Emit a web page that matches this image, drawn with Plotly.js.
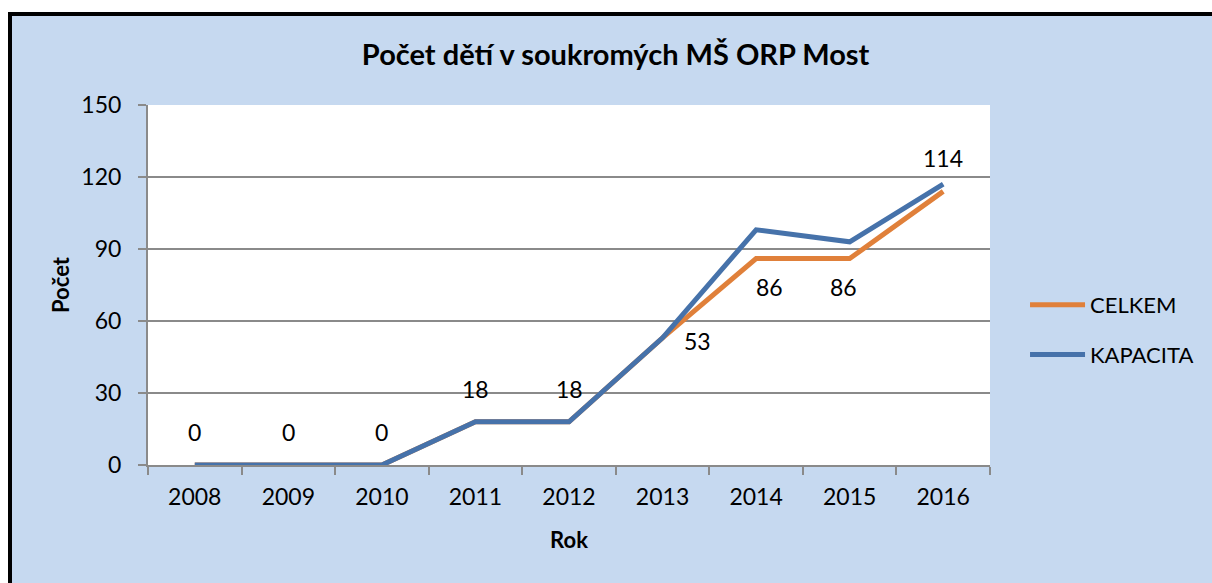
<!DOCTYPE html>
<html>
<head>
<meta charset="utf-8">
<script src="https://cdn.plot.ly/plotly-3.0.1.min.js"></script>
<style>
  html, body { margin: 0; padding: 0; background: #ffffff; overflow: hidden; }
  #frame { position: absolute; left: 8px; top: 12px; width: 1200px; height: 567px;
           border-left: 4px solid #000; border-top: 4px solid #000; background: #C6D9F0; }
  #chart { width: 1200px; height: 567px; }
</style>
</head>
<body>
<div id="frame"><div id="chart"></div></div>
<script>
const years = ["2008", "2009", "2010", "2011", "2012", "2013", "2014", "2015", "2016"];
const celkem = [0, 0, 0, 18, 18, 53, 86, 86, 114];
const kapacita = [0, 0, 0, 18, 18, 53, 98, 93, 117];
const yTicks = [0, 30, 60, 90, 120, 150];
// label offsets (pixels) for CELKEM data labels
const labelDx = [0, 0, 0, 0, 0, 35, 13, -6, 0];
const labelDy = [33, 33, 33, 33, 33, -3, -28, -28, 33];

const FONT = "Lato, 'Open Sans', sans-serif";
const tickFont = { family: FONT, size: 23, color: "#000" };

const traces = [
  { x: years, y: celkem, name: "CELKEM", type: "scatter", mode: "lines",
    line: { color: "#E0803A", width: 5 }, legendgroup: "a", hoverinfo: "skip" },
  { x: years, y: kapacita, name: "KAPACITA", type: "scatter", mode: "lines",
    line: { color: "#4672AA", width: 5 }, legendgroup: "b", hoverinfo: "skip" }
];

const annotations = years.map((yr, i) => ({
  x: i, y: celkem[i], xref: "x", yref: "y", text: String(celkem[i]),
  showarrow: false, xshift: labelDx[i], yshift: labelDy[i],
  font: { family: FONT, size: 23, color: "#000" }
}));

const layout = {
  width: 1200, height: 567,
  paper_bgcolor: "#C6D9F0", plot_bgcolor: "#FFFFFF",
  margin: { l: 136, r: 222, t: 89, b: 118 },
  title: { text: "<b>Počet dětí v soukromých MŠ ORP Most</b>",
           font: { family: FONT, size: 29, color: "#000" },
           x: 0.503, xanchor: "center", xref: "container", y: 0.95, yref: "container" },
  xaxis: {
    type: "category", categoryorder: "array", categoryarray: years,
    range: [-0.5, 8.5], tickson: "boundaries", ticks: "outside", ticklen: 8,
    tickcolor: "#8a8a8a", tickwidth: 2, showgrid: false, showline: true,
    linecolor: "#8a8a8a", linewidth: 2, tickfont: tickFont, ticklabelstandoff: 10,
    zeroline: false,
    title: { text: "<b>Rok</b>", font: { family: FONT, size: 22, color: "#000" }, standoff: 24 }
  },
  yaxis: {
    range: [0, 150], tickvals: yTicks, ticktext: yTicks.map(String),
    ticks: "outside", ticklen: 8, tickcolor: "#8a8a8a", tickwidth: 2,
    showgrid: true, gridcolor: "#8a8a8a", gridwidth: 1.5,
    showline: true, linecolor: "#8a8a8a", linewidth: 2, zeroline: false,
    tickfont: tickFont, ticklabelstandoff: 12,
    title: { text: "<b>Počet</b>", font: { family: FONT, size: 22, color: "#000" }, standoff: 6 }
  },
  legend: { x: 1.0416, xanchor: "left", y: 0.375, yanchor: "middle",
            bgcolor: "rgba(0,0,0,0)", font: { family: FONT, size: 22, color: "#000" },
            tracegroupgap: 18, itemwidth: 55 },
  showlegend: true,
  annotations: annotations
};

Plotly.newPlot("chart", traces, layout, { staticPlot: true });
</script>
</body>
</html>
